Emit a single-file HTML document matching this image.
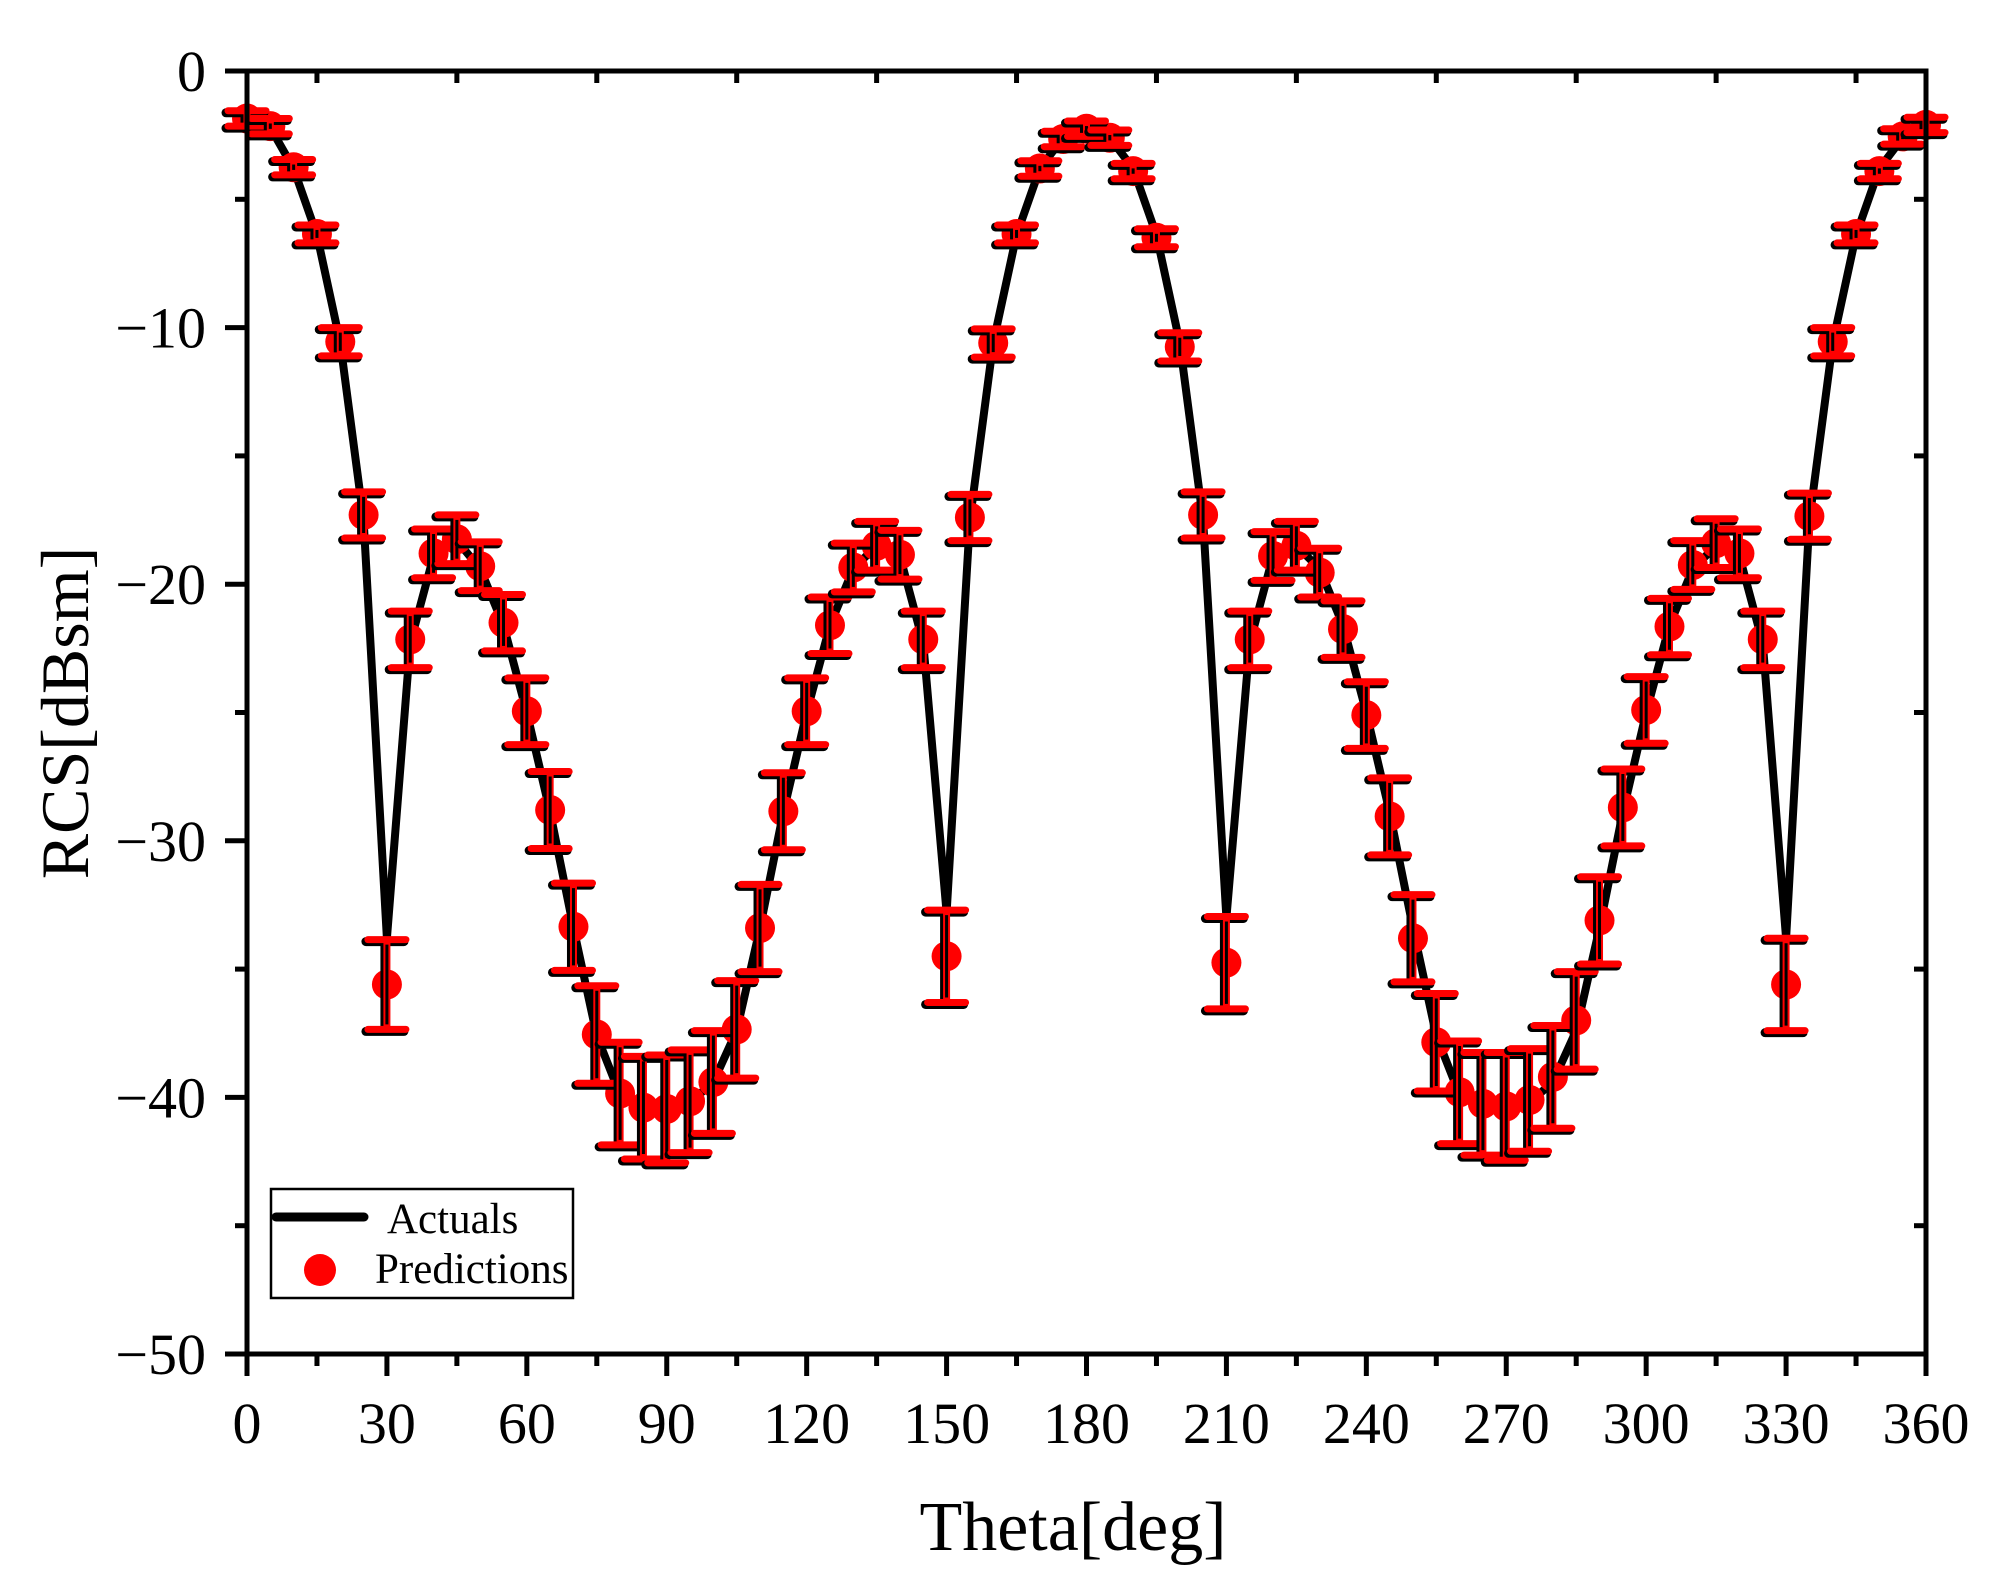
<!DOCTYPE html>
<html><head><meta charset="utf-8"><style>
html,body{margin:0;padding:0;background:#fff;}
svg{display:block;font-family:"Liberation Serif",serif;}
</style></head><body>
<svg id="chart" width="2012" height="1581" viewBox="0 0 2012 1581" xmlns="http://www.w3.org/2000/svg">
<rect x="0" y="0" width="2012" height="1581" fill="#fff"/>
<g id="marks"></g>
<g id="axes"></g>
<g id="legend">
  <rect x="271" y="1189" width="302" height="109" fill="#fff" stroke="#000" stroke-width="2.5"/>
  <line x1="276" y1="1217" x2="364" y2="1217" stroke="#000" stroke-width="9" stroke-linecap="round"/>
  <text x="387" y="1233" font-size="43">Actuals</text>
  <circle cx="320" cy="1270" r="16" fill="#f00"/>
  <text x="375" y="1283" font-size="43">Predictions</text>
</g>
<text x="1073" y="1550" font-size="70" text-anchor="middle">Theta[deg]</text>
<text transform="translate(88,713) rotate(-90)" font-size="68" text-anchor="middle">RCS[dBsm]</text>
</svg>
<script>
const thetas = [0,5,10,15,20,25,30,35,40,45,50,55,60,65,70,75,80,85,90,95,100,105,110,115,120,125,130,135,140,145,150,155,160,165,170,175,180,185,190,195,200,205,210,215,220,225,230,235,240,245,250,255,260,265,270,275,280,285,290,295,300,305,310,315,320,325,330,335,340,345,350,355,360];
const predictions = [-1.85,-2.15,-3.75,-6.35,-10.55,-17.3,-35.6,-22.15,-18.8,-18.25,-19.3,-21.5,-24.95,-28.8,-33.35,-37.55,-39.85,-40.4,-40.45,-40.15,-39.4,-37.35,-33.4,-28.85,-24.95,-21.6,-19.35,-18.5,-18.85,-22.15,-34.5,-17.4,-10.6,-6.35,-3.8,-2.65,-2.25,-2.6,-3.9,-6.5,-10.75,-17.3,-34.75,-22.15,-18.9,-18.5,-19.55,-21.75,-25.1,-29.05,-33.8,-37.85,-39.8,-40.25,-40.35,-40.1,-39.2,-37.0,-33.1,-28.7,-24.9,-21.65,-19.25,-18.4,-18.8,-22.15,-35.6,-17.35,-10.55,-6.35,-3.9,-2.55,-2.1];
const actuals = [-1.9,-2.2,-3.8,-6.4,-10.6,-17.5,-33.8,-22.3,-18.9,-18.3,-19.4,-21.6,-25.0,-28.9,-33.4,-37.6,-39.9,-40.4,-40.5,-40.2,-39.4,-37.4,-33.4,-28.9,-25.0,-21.6,-19.4,-18.5,-18.9,-22.3,-32.8,-17.5,-10.6,-6.4,-3.8,-2.6,-2.2,-2.6,-3.8,-6.4,-10.6,-17.5,-33.0,-22.3,-18.9,-18.5,-19.4,-21.6,-25.0,-28.9,-33.4,-37.6,-39.9,-40.4,-40.5,-40.2,-39.4,-37.4,-33.4,-28.9,-25.0,-21.6,-19.4,-18.5,-18.9,-22.3,-33.8,-17.5,-10.6,-6.4,-3.8,-2.6,-2.1];
const errors = [0.3,0.3,0.3,0.35,0.55,0.9,1.75,1.1,0.95,0.95,0.95,1.1,1.3,1.5,1.7,1.9,2.0,2.0,2.1,2.0,2.0,1.9,1.7,1.5,1.3,1.1,0.95,0.95,0.95,1.1,1.8,0.9,0.55,0.35,0.3,0.3,0.3,0.3,0.3,0.35,0.55,0.9,1.8,1.1,0.95,0.95,0.95,1.1,1.3,1.5,1.7,1.9,2.0,2.0,2.1,2.0,2.0,1.9,1.7,1.5,1.3,1.1,0.95,0.95,0.95,1.1,1.8,0.9,0.55,0.35,0.3,0.3,0.3];
const xTicks = [0,30,60,90,120,150,180,210,240,270,300,330,360];
const yTicks = [0,-10,-20,-30,-40,-50];

const L=247,R=1926,T=71,B=1354;
const xs = v => L + (v-0)/360*(R-L);
const ys = v => T + (0-v)/50*(B-T);
const NS='http://www.w3.org/2000/svg';
function mk(tag, attrs, parent){const e=document.createElementNS(NS,tag);for(const k in attrs)e.setAttribute(k,attrs[k]);parent.appendChild(e);return e;}
const marks=document.getElementById('marks'), axes=document.getElementById('axes');

let d='';
thetas.forEach((t,i)=>{d+=(i?'L':'M')+xs(t).toFixed(1)+','+ys(actuals[i]).toFixed(1);});
const line=mk('path',{d:d,fill:'none',stroke:'#000','stroke-width':8,'stroke-linejoin':'round'},marks);



thetas.forEach((t,i)=>{
  const c=mk('circle',{cx:xs(t),cy:ys(predictions[i]),r:15,fill:'#f00'},marks);
  
  
});
thetas.forEach((t,i)=>{
  const x=xs(t), y1=ys(predictions[i]+errors[i]), y2=ys(predictions[i]-errors[i]);
  const g=mk('g',{},marks);
  
  
  [['#000',-2,2,9],['#f00',0,0,7]].forEach(([col,dx,dy,w])=>{
    mk('line',{x1:x+dx,y1:y1+dy,x2:x+dx,y2:y2+dy,stroke:col,'stroke-width':w},g);
    mk('line',{x1:x-19+dx,y1:y1+dy,x2:x+19+dx,y2:y1+dy,stroke:col,'stroke-width':w,'stroke-linecap':'round'},g);
    mk('line',{x1:x-19+dx,y1:y2+dy,x2:x+19+dx,y2:y2+dy,stroke:col,'stroke-width':w,'stroke-linecap':'round'},g);
  });
  mk('line',{x1:x,y1:y1+5,x2:x,y2:y2-5,stroke:'#000','stroke-width':3},g);
});

const fr=mk('rect',{x:L,y:T,width:R-L,height:B-T,fill:'none',stroke:'#000','stroke-width':5},axes);



xTicks.forEach(v=>{
  const x=xs(v);
  mk('line',{x1:x,y1:B,x2:x,y2:B+22,stroke:'#000','stroke-width':5},axes);
  const tx=mk('text',{x:x,y:1443,'font-size':58,'text-anchor':'middle'},axes);
  tx.textContent=v;
  
  
});
for(let i=0;i<xTicks.length-1;i++){
  const x=xs((xTicks[i]+xTicks[i+1])/2);
  mk('line',{x1:x,y1:B,x2:x,y2:B+12,stroke:'#000','stroke-width':5},axes);
  mk('line',{x1:x,y1:T,x2:x,y2:T+12,stroke:'#000','stroke-width':5},axes);
}
yTicks.forEach(v=>{
  const y=ys(v);
  mk('line',{x1:L-22,y1:y,x2:L,y2:y,stroke:'#000','stroke-width':5},axes);
  const tx=mk('text',{x:206,y:y+20,'font-size':58,'text-anchor':'end'},axes);
  tx.textContent=v===0?'0':'\u2212'+Math.abs(v);
  
  
});
for(let i=0;i<yTicks.length-1;i++){
  const y=ys((yTicks[i]+yTicks[i+1])/2);
  mk('line',{x1:L-12,y1:y,x2:L,y2:y,stroke:'#000','stroke-width':5},axes);
  mk('line',{x1:R-12,y1:y,x2:R,y2:y,stroke:'#000','stroke-width':5},axes);
}
</script>
</body></html>
